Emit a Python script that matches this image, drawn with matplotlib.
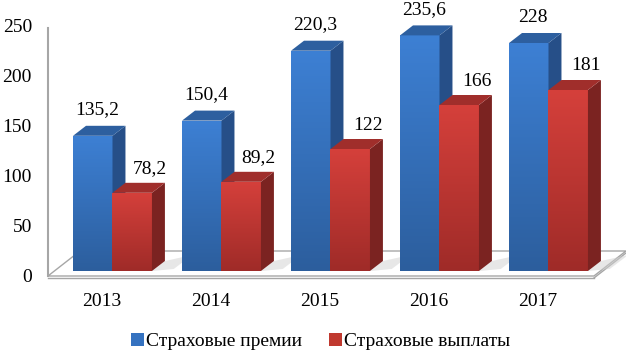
import numpy as np
import matplotlib
matplotlib.use("Agg")
import matplotlib.pyplot as plt
from matplotlib.patches import Polygon, Patch
from matplotlib.colors import LinearSegmentedColormap

# ---- data ----
years = ["2013", "2014", "2015", "2016", "2017"]
premiums = [135.2, 150.4, 220.3, 235.6, 228]
payouts = [78.2, 89.2, 122, 166, 181]
premium_labels = ["135,2", "150,4", "220,3", "235,6", "228"]
payout_labels = ["78,2", "89,2", "122", "166", "181"]
series_names = ["Страховые премии", "Страховые выплаты"]
y_ticks = [0, 50, 100, 150, 200, 250]

plt.rcParams['font.family'] = ['Liberation Serif', 'DejaVu Serif']

fig = plt.figure(figsize=(6.26, 3.56), dpi=100)
ax = fig.add_axes([0, 0, 1, 1])
ax.set_xlim(-1.032, 4.711)
ax.set_ylim(-85, 271)
ax.axis('off')

w = 0.362          # bar width (category units)
ddx, ddy = 0.119, 10   # bar depth offsets
fdx, fdy = 0.294, 25   # floor depth
front_shift = 7        # front plane below bar plane
grey = '#a6a6a6'

# floor
x0, x1 = -0.592, 4.417
floor_top = Polygon([(x0, -front_shift + 2), (x1, -front_shift + 2),
                     (x1 + fdx, -front_shift + 2 + fdy), (x0 + fdx, -front_shift + 2 + fdy)],
                    closed=True, facecolor='white', edgecolor=grey, lw=1.0, zorder=1)
ax.add_patch(floor_top)
ax.plot([x0, x1], [-front_shift, -front_shift], color=grey, lw=1.0, zorder=1)
ax.plot([x1, x1 + fdx], [-front_shift, -front_shift + fdy], color=grey, lw=1.0, zorder=1)
# left wall edge
ax.plot([x0, x0], [-front_shift + 2, 250 - front_shift], color=grey, lw=1.5, zorder=1)

blue_cmap = LinearSegmentedColormap.from_list('b', ['#2c5e9d', '#3d80d4'])
red_cmap = LinearSegmentedColormap.from_list('r', ['#9f2b28', '#d5403b'])
grad = np.linspace(0, 1, 256).reshape(-1, 1)

def bar3d(xl, val, cmap, side_c, top_c):
    xr = xl + w
    # floor shadow
    sh = Polygon([(xr, 0), (xr + ddx, ddy), (xr + ddx + 0.25, ddy + 6), (xr + 0.2, 2)],
                 closed=True, facecolor='#d0d0d0', edgecolor='none', alpha=0.5, zorder=2)
    ax.add_patch(sh)
    rect = ax.bar(xl, val, width=w, align='edge', bottom=0, color='none',
                  edgecolor='none', zorder=3)[0]
    im = ax.imshow(grad, cmap=cmap, origin='lower', aspect='auto',
                   extent=(xl, xr, 0, val), zorder=3)
    im.set_clip_path(rect)
    side = Polygon([(xr, 0), (xr + ddx, ddy), (xr + ddx, val + ddy), (xr, val)],
                   closed=True, facecolor=side_c, edgecolor='none', zorder=3)
    top = Polygon([(xl, val), (xr, val), (xr + ddx, val + ddy), (xl + ddx, val + ddy)],
                  closed=True, facecolor=top_c, edgecolor='none', zorder=3)
    ax.add_patch(side)
    ax.add_patch(top)

fs = 14
for i in range(len(years)):
    bl = i - w
    rl = i
    bar3d(bl, premiums[i], blue_cmap, '#264f88', '#2d5f9f')
    bar3d(rl, payouts[i], red_cmap, '#7b2321', '#a02e2b')
    ax.text(bl + w / 2 + 0.04, premiums[i] + 26, premium_labels[i], ha='center', va='center',
            fontsize=fs, zorder=5)
    ax.text(rl + w / 2 + 0.16, payouts[i] + 24, payout_labels[i], ha='center', va='center',
            fontsize=fs, zorder=5)
    ax.text(i - 0.095, -31, years[i], ha='center', va='center', fontsize=fs)

for t in y_ticks:
    ax.text(-0.739, t - front_shift, str(t), ha='right', va='center', fontsize=fs)

handles = [Patch(facecolor='#3572c0', edgecolor='none'),
           Patch(facecolor='#c0392f', edgecolor='none')]
fig.legend(handles, series_names, loc='center', bbox_to_anchor=(0.512, 0.04),
           ncol=2, frameon=False, fontsize=fs, handlelength=0.65, handleheight=0.65,
           handletextpad=0.1, columnspacing=1.4)

fig.savefig('out.png', dpi=100)
